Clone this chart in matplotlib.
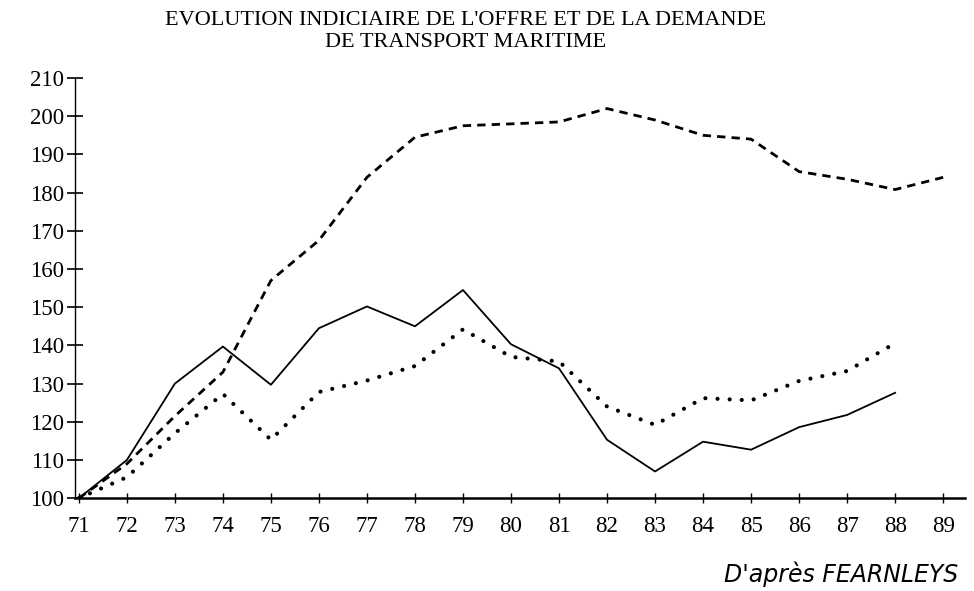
import matplotlib
matplotlib.use("Agg")
import matplotlib.pyplot as plt

years = list(range(71, 90))
year_labels = [str(y) for y in years]

# offre (tirets), demande (trait plein), demande en t-mille (pointillés)
offre = [100, 109, 121.5, 133, 157, 167.5, 184, 194.5, 197.5, 198, 198.5,
         202, 199, 195, 194, 185.5, 183.5, 180.8, 184]
demande = [100, 110, 130, 139.7, 129.7, 144.5, 150.2, 145, 154.5, 140.3, 134,
           115.3, 107, 114.8, 112.7, 118.6, 121.8, 127.6]
demande_tm = [100, 105.5, 117, 127.3, 115.3, 127.8, 130.8, 134.6, 144.2, 137,
              135.8, 124, 119.2, 126.2, 125.6, 130.7, 133.3, 140.6]
yticks = list(range(100, 211, 10))

plt.rcParams['font.family'] = ['Liberation Serif', 'DejaVu Serif']

fig = plt.figure(figsize=(9.74, 5.91), dpi=100)
ax = fig.add_axes([0.077, 0.157, 0.914, 0.711])

ax.plot(years[:len(offre)], offre, color='black', lw=2.0,
        linestyle=(0, (3.0, 2.2)))
ax.plot(years[:len(demande)], demande, color='black', lw=1.3, linestyle='-')
ax.plot(years[:len(demande_tm)], demande_tm, color='black', lw=3.0,
        linestyle=(0, (0.01, 2.9)), dash_capstyle='round')

ax.set_xlim(70.92, 89.46)
ax.set_ylim(100, 210)
ax.set_xticks(years)
ax.set_xticklabels(year_labels)
ax.set_yticks(yticks)
ax.set_yticklabels([str(v) for v in yticks])

for s in ['top', 'right']:
    ax.spines[s].set_visible(False)
ax.spines['left'].set_linewidth(1.0)
ax.spines['bottom'].set_linewidth(1.8)
ax.tick_params(axis='y', direction='inout', length=12, width=1.2,
               labelsize=16.5, pad=2)
ax.tick_params(axis='x', direction='inout', length=7, width=1.0,
               labelsize=16.5, pad=9)

fig.text(0.478, 0.965, "EVOLUTION INDICIAIRE DE L'OFFRE ET DE LA DEMANDE",
         ha='center', va='center', fontsize=16, fontweight='light')
fig.text(0.478, 0.928, "DE TRANSPORT MARITIME",
         ha='center', va='center', fontsize=16, fontweight='light')
fig.text(0.984, 0.028, "D'après FEARNLEYS", ha='right', va='center',
         fontsize=17, style='italic', family=['DejaVu Sans'])

fig.savefig('out.png', dpi=100)
